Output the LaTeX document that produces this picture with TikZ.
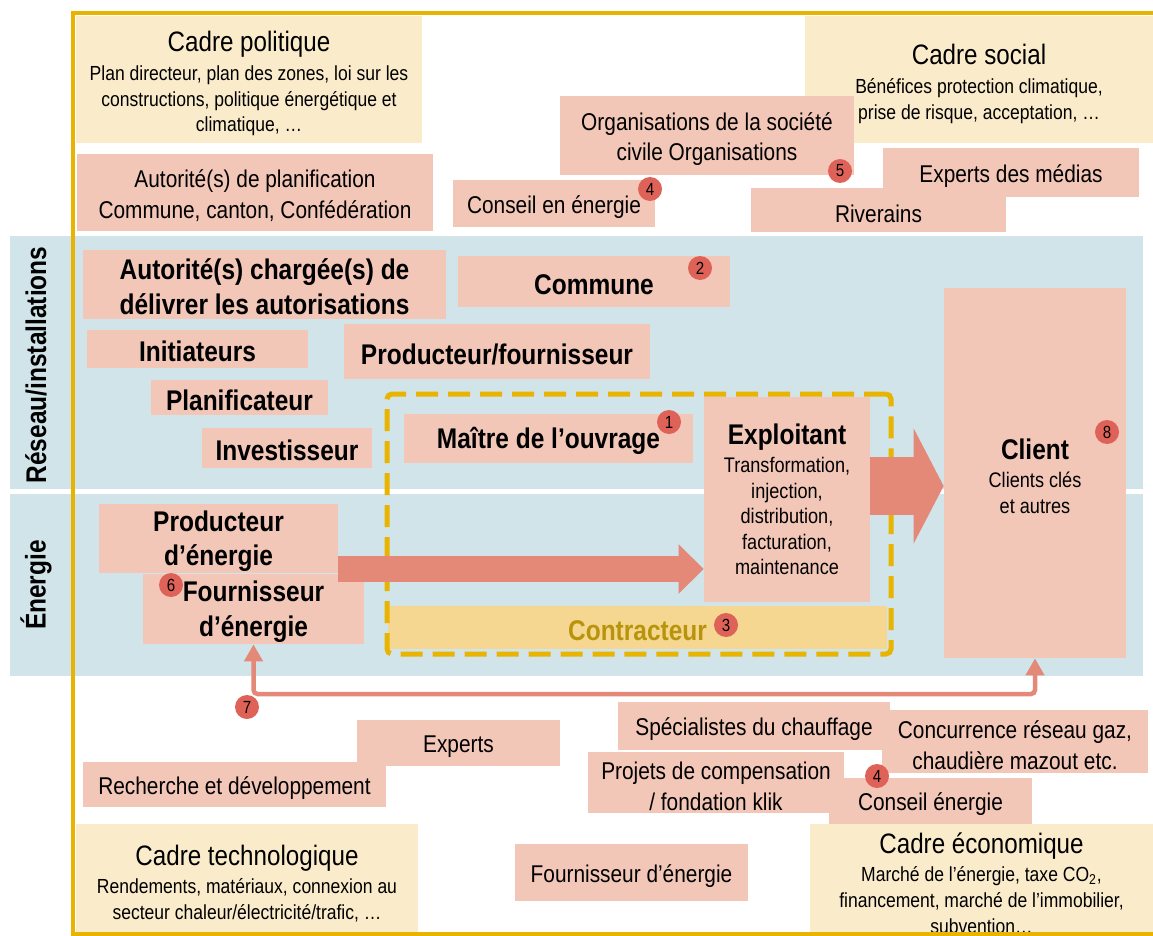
\documentclass[tikz,border=0pt]{standalone}
\usepackage{fontspec}
\setmainfont[FakeStretch=0.86]{Liberation Sans}
\usetikzlibrary{arrows.meta}
\definecolor{boxpink}{RGB}{243,199,184}
\definecolor{cream}{RGB}{250,235,203}
\definecolor{bandblue}{RGB}{208,228,234}
\definecolor{flowred}{RGB}{228,136,120}
\definecolor{badgered}{RGB}{222,98,88}
\definecolor{frameyellow}{RGB}{232,180,0}
\definecolor{ctrfill}{RGB}{245,215,145}
\definecolor{ctrtext}{RGB}{184,148,10}
\newcommand*{\px}{0.02cm}
\newcommand*{\fttl}{\fontsize{16}{19}\selectfont}
\newcommand*{\fnote}{\fontsize{11.6}{14.7}\selectfont}
\newcommand*{\flbl}{\fontsize{13.8}{17.6}\selectfont}
\newcommand*{\fbold}{\fontsize{16.2}{19.6}\selectfont\bfseries}
\newcommand*{\fsub}{\fontsize{12}{14.5}\selectfont}
\newcommand*{\padt}{\rule{0pt}{1.03em}}% lifts first line
\newcommand*{\padb}{\rule{0pt}{0.9em}}
\tikzset{%
  box/.style={fill=boxpink, inner sep=0pt, align=center, font=\flbl},% actor box
  cadre/.style={box, fill=cream, font=\fnote},% framework box
  actor/.style={box, font=\fbold},% bold actor box
  wh/.style 2 args={minimum width=#1*\px, minimum height=#2*\px},
  badge/.style={circle, fill=badgered, inner sep=0pt, minimum size=24*\px,
    font=\fontsize{10}{10}\selectfont},% numbered marker
  side/.style={rotate=90, font=\fbold},% band label
  flow/.style={draw=flowred}
}

\begin{document}
\begin{tikzpicture}[x=\px, y=-\px]
\useasboundingbox (0,0) rectangle (1153,936);

% bands
\fill[bandblue] (10,236) rectangle (1143,489);
\fill[bandblue] (10,494) rectangle (1143,676);
\node[side] (lres) at (36,365) {Réseau/installations};
\node[side] (lene) at (36,585) {Énergie};

% frameworks
\node[cadre, wh={346}{127}] (cpol) at (249,79.5) {{\fttl\padt Cadre politique}\\[1.5pt]Plan directeur, plan des zones, loi sur les\\constructions, politique énergétique et\\climatique, …};
\node[cadre, wh={348}{127}] (csoc) at (979,79.5) {{\fttl\padt Cadre social}\\[1.5pt]Bénéfices protection climatique,\\prise de risque, acceptation, …};
\node[cadre, wh={342}{110}] (ctec) at (247,879) {{\fttl\padt Cadre technologique}\\[1.5pt]Rendements, matériaux, connexion au\\secteur chaleur/électricité/trafic, …};
\node[cadre, wh={343}{110}] (ceco) at (981.5,879) {{\fttl\padt Cadre économique}\\[1.5pt]Marché de l’énergie, taxe CO\textsubscript{2},\\financement, marché de l’immobilier,\\subvention…};

% upper actors
\node[box, wh={356}{77}] (aplan) at (255,192.5) {\padt Autorité(s) de planification\\Commune, canton, Confédération};
\node[box, wh={202}{47}] (cen) at (554,203.5) {\padt Conseil en énergie};
\node[box, wh={294}{79}] (org) at (707,135.5) {\padt Organisations de la société\\civile Organisations};
\node[box, wh={256}{49}] (med) at (1011,172.5) {\padt Experts des médias};
\node[box, wh={255}{44}] (riv) at (878.5,210) {\padt Riverains};

% network / energy
\node[actor, wh={363}{69}] (auto) at (264.5,284.5) {\padb Autorité(s) chargée(s) de\\délivrer les autorisations};
\node[actor, wh={272}{51}] (com) at (594,281.5) {\padb Commune};
\node[actor, wh={221}{38}] (init) at (197.5,349) {\padb Initiateurs};
\node[actor, wh={306}{55}] (prodf) at (497,351.5) {\padb Producteur/fournisseur};
\node[actor, wh={177}{35}] (plan) at (239.5,397.5) {\padb Planificateur};
\node[actor, wh={170}{40}] (inv) at (287,448) {\padb Investisseur};
\node[actor, wh={289}{49}] (mo) at (548.5,438.5) {\padb Maître de l’ouvrage};
\node[box, wh={166}{205}, font=\fsub] (expl) at (787,499.5) {{\fbold Exploitant}\\[1.5pt]Transformation,\\injection,\\distribution,\\facturation,\\maintenance};
\node[actor, fill=ctrfill, text=ctrtext, wh={499}{43}] (ctr) at (637.5,627.5) {\padb Contracteur};
\node[box, wh={182}{370}] (cli) at (1035,473) {};
\node[font=\fsub, align=center, inner sep=0pt] (clit) at (1035,476) {{\fbold Client}\\[1.5pt]Clients clés\\et autres};
\node[actor, wh={239}{69}] (pe) at (218.5,538.5) {\padb Producteur\\d’énergie};
\node[actor, wh={221}{70}] (fe) at (253.5,609) {\padb Fournisseur\\d’énergie};

% lower actors
\node[box, wh={203}{46}] (exps) at (458.5,743) {\padt Experts};
\node[box, wh={303}{45}] (rd) at (234.5,784.5) {\padt Recherche et développement};
\node[box, wh={233}{57}] (fen) at (631.5,872.5) {\padt Fournisseur d’énergie};
\node[box, wh={272}{48}] (spec) at (754,726) {\padt Spécialistes du chauffage};
\node[box, wh={266}{63}] (conc) at (1015,741.5) {\padt Concurrence réseau gaz,\\chaudière mazout etc.};
\node[box, wh={256}{61}] (proj) at (716,782.5) {\padt Projets de compensation\\/ fondation klik};
\node[box, wh={203}{46}] (cen2) at (930.5,801) {\padt Conseil énergie};

% contractor zone
\node[draw=frameyellow, line width=0.1cm, dash pattern=on 0.44cm off 0.2cm,
  rounded corners=0.1cm, inner sep=0pt, wh={504}{260}] (zone) at (639,524) {};

% flows
\coordinate (ret) at (254,694);
\draw[flow, line width=0.52cm, -{Triangle[length=0.5cm, width=0.96cm]}] (pe.east |- 0,569) -- (expl.west |- 0,569);
\draw[flow, line width=1.16cm, -{Triangle[length=0.6cm, width=2.28cm]}] (expl.east |- 0,486) -- (cli.west |- 0,486);
\draw[flow, line width=0.09cm, rounded corners=0.08cm,
  {Triangle[length=0.34cm, width=0.36cm]}-{Triangle[length=0.34cm, width=0.36cm]}]
  (fe.south) -- (fe.south |- ret) -| (cli.south);

% outer frame
\draw[frameyellow, line width=0.08cm] (1153,13) -- (73,13) -- (73,934) -- (1153,934);

% markers
\node[badge] (n1) at (669,422) {1};
\node[badge] (n2) at (700,268) {2};
\node[badge] (n3) at (726,625) {3};
\node[badge] (n4) at (650,189) {4};
\node[badge] (n5) at (840,171) {5};
\node[badge] (n6) at (171,585) {6};
\node[badge] (n7) at (247,707) {7};
\node[badge] (n8) at (1107,432) {8};
\node[badge] (n4b) at (877,776) {4};

\end{tikzpicture}
\end{document}
